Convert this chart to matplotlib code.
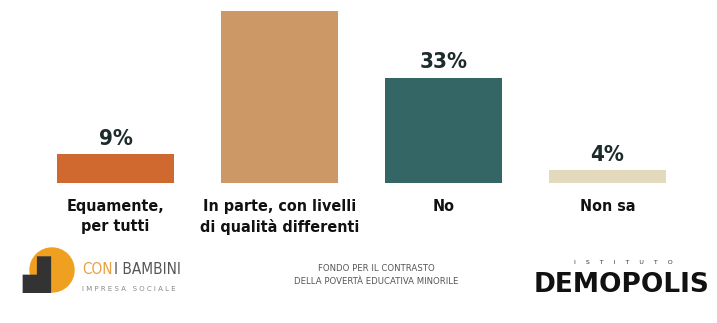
import matplotlib.pyplot as plt
from matplotlib.patches import Circle

categories = ["Equamente,\nper tutti", "In parte, con livelli\ndi qualità differenti", "No", "Non sa"]
values = [9, 54, 33, 4]
colors = ["#CF692F", "#CC9966", "#346665", "#E3D9BC"]

fam = ["DejaVu Sans"]

fig = plt.figure(figsize=(7.17, 3.23), dpi=100)
ax = fig.add_axes([0, 140 / 323, 1, 183 / 323])
x = list(range(len(values)))
ax.bar(x, values, width=0.71, color=colors)
ax.set_xlim(-0.704, 3.668)
ax.set_ylim(0, 57.5)
ax.axis("off")

for xi, v, c in zip(x, values, categories):
    # the label of the tallest bar falls above the picture in the original
    if v + 6 < ax.get_ylim()[1]:
        ax.annotate(f"{v}%", (xi, v), xytext=(0, 4), textcoords="offset points",
                    ha="center", va="bottom", fontsize=16, fontweight="bold",
                    family=fam, fontstretch="condensed", color="#1f2b2b",
                    annotation_clip=False)
    ax.text(xi, -5, c, ha="center", va="top", fontsize=11.5, fontweight="bold",
            family=fam, fontstretch="condensed", color="#111111",
            linespacing=1.4, clip_on=False)

# footer: logos as text
fig.patches.append(Circle((52, 323 - 270), 22, transform=None, color="#F0A020",
                          figure=fig))
fig.text(22 / 717, 1 - 275 / 323, "▟", fontsize=26, color="#333333",
         va="center", ha="left")
fig.text(82 / 717, 1 - 270 / 323, "CON", fontsize=11, color="#E8A040",
         fontstretch="condensed", va="center", ha="left")
fig.text(114 / 717, 1 - 270 / 323, "I BAMBINI", fontsize=11, color="#555555",
         fontstretch="condensed", va="center", ha="left")
fig.text(82 / 717, 1 - 289 / 323, "I M P R E S A   S O C I A L E", fontsize=5,
         color="#888888", va="center", ha="left")
fig.text(376 / 717, 1 - 275 / 323, "FONDO PER IL CONTRASTO\nDELLA POVERTÀ EDUCATIVA MINORILE",
         fontsize=6.8, color="#555555", fontstretch="condensed", ha="center",
         va="center", linespacing=1.5)
fig.text(623 / 717, 1 - 262 / 323, "I     S     T     I     T     U     T     O", fontsize=4.5,
         color="#333333", ha="center", va="center")
fig.text(622 / 717, 1 - 285 / 323, "DEMOPOLIS", fontsize=19, fontweight="black",
         color="#111111", ha="center", va="center")

fig.savefig("out.png", dpi=100)
